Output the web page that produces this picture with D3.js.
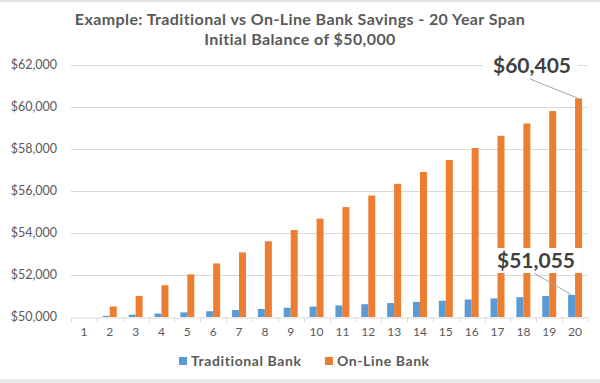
<!DOCTYPE html>
<html>
<head>
<meta charset="utf-8">
<script src="https://d3js.org/d3.v7.min.js"></script>
<style>
  html, body { margin: 0; padding: 0; background: #ffffff; }
  svg { display: block; }
</style>
</head>
<body>
<script>
// ---- Data ----
const years = ["1","2","3","4","5","6","7","8","9","10","11","12","13","14","15","16","17","18","19","20"];
const traditional = [50000,50055,50110,50165,50220,50276,50331,50386,50442,50497,50553,50608,50664,50720,50776,50832,50887,50943,51000,51055];
const online = [50000,50500,51005,51515,52030,52551,53076,53607,54143,54684,55231,55783,56341,56905,57474,58048,58629,59215,59807,60405];
const yTicks = [50000,52000,54000,56000,58000,60000,62000];
const seriesNames = ["Traditional Bank","On-Line Bank"];
const titleLines = ["Example: Traditional vs On-Line Bank Savings - 20 Year Span","Initial Balance of $50,000"];

const W = 600, H = 383;
const colors = ["#5B9BD5", "#ED7D31"];
const textColor = "#595959";
const font = "Lato, 'Open Sans', sans-serif";

const svg = d3.select("body").append("svg").attr("width", W).attr("height", H);

// frame bands
svg.append("rect").attr("x",0).attr("y",0).attr("width",W).attr("height",H).attr("fill","#fff");
svg.append("rect").attr("x",0).attr("y",0).attr("width",W).attr("height",2).attr("fill","#e3e3e3");
svg.append("rect").attr("x",0).attr("y",379).attr("width",W).attr("height",4).attr("fill","#e8e8e8");

const x = d3.scaleBand().domain(years).range([71, 588]).padding(0);
const y = d3.scaleLinear().domain([50000, 62000]).range([317, 65]);

// title
svg.append("g").selectAll("text").data(titleLines).join("text")
  .attr("x", W/2).attr("y", (d,i) => 25 + i*20)
  .attr("text-anchor","middle")
  .attr("font-family", font).attr("font-weight","bold").attr("font-size", 16)
  .attr("letter-spacing", 0.4)
  .attr("fill", textColor).text(d => d);

// gridlines
svg.append("g").selectAll("line").data(yTicks.slice(1)).join("line")
  .attr("x1", 71).attr("x2", 588)
  .attr("y1", d => Math.round(y(d)) + 0.5).attr("y2", d => Math.round(y(d)) + 0.5)
  .attr("stroke", "#d9d9d9").attr("stroke-width", 1);

// y axis labels
const fmt = d3.format("$,");
svg.append("g").selectAll("text").data(yTicks).join("text")
  .attr("x", 57).attr("y", d => y(d)).attr("dy","0.35em")
  .attr("text-anchor","end")
  .attr("font-family", font).attr("font-size", 12.5)
  .attr("fill", textColor).text(d => fmt(d));

// x axis
const xAxis = d3.axisBottom(x).tickSize(0).tickPadding(10);
const gx = svg.append("g").attr("transform", `translate(0,${Math.round(y(50000)) + 0.5})`).call(xAxis);
gx.select(".domain").attr("stroke", "#d9d9d9");
gx.selectAll("text").attr("font-family", font).attr("font-size", 12).attr("fill", textColor);
// boundary tick marks
const bounds = years.map(d => x(d)).concat([x.range()[1]]);
gx.selectAll("line.bound").data(bounds).join("line").attr("class","bound")
  .attr("x1", d => Math.round(d)+0.5).attr("x2", d => Math.round(d)+0.5)
  .attr("y1", 0).attr("y2", 5).attr("stroke", "#d9d9d9");

// bars
const bw = x.bandwidth();
const barW = bw * 0.27;
const series = [traditional, online];
series.forEach((vals, s) => {
  svg.append("g").selectAll("rect").data(vals).join("rect")
    .attr("x", (d,i) => x(years[i]) + bw/2 - barW + s*barW)
    .attr("y", d => y(d))
    .attr("width", barW)
    .attr("height", d => y(50000) - y(d))
    .attr("fill", colors[s]);
});

// data labels for last year
function callout(val, s, cx, bx, by, bwid, bh) {
  const last = years.length - 1;
  const px = x(years[last]) + bw/2 - barW + s*barW + barW/2;
  const py = y(val);
  svg.append("rect").attr("x", bx).attr("y", by).attr("width", bwid).attr("height", bh).attr("fill","#fff");
  svg.append("line").attr("x1", cx - 2).attr("y1", by + bh).attr("x2", px).attr("y2", py)
    .attr("stroke","#a6a6a6").attr("stroke-width",1);
  svg.append("text").attr("x", cx).attr("y", by + bh/2).attr("dy","0.35em")
    .attr("text-anchor","middle")
    .attr("font-family", font).attr("font-weight","bold").attr("font-size", 21)
    .attr("fill", "#404040").text(fmt(val));
}
callout(online[online.length-1], 1, 532, 483, 52, 95, 27);
callout(traditional[traditional.length-1], 0, 536, 484, 248, 98, 25);

// legend
const legendItems = [{x:179, name: seriesNames[0], c: colors[0]}, {x:325, name: seriesNames[1], c: colors[1]}];
const lg = svg.append("g").selectAll("g").data(legendItems).join("g");
lg.append("rect").attr("x", d => d.x).attr("y", 357).attr("width", 8).attr("height", 8).attr("fill", d => d.c);
lg.append("text").attr("x", d => d.x + 12).attr("y", 361).attr("dy","0.35em")
  .attr("font-family", font).attr("font-weight","bold").attr("font-size", 14)
  .attr("letter-spacing", 0.6)
  .attr("fill", textColor).text(d => d.name);
</script>
</body>
</html>
